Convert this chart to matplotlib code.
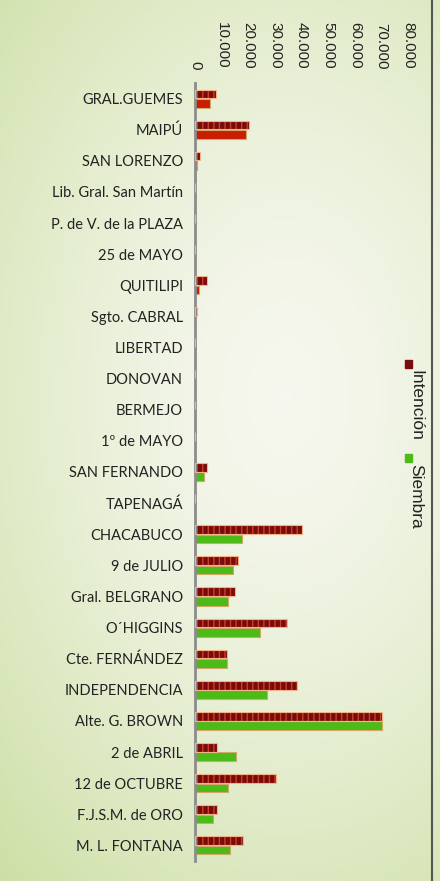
import numpy as np
import matplotlib
matplotlib.use("Agg")
import matplotlib.pyplot as plt
from matplotlib.patches import Rectangle
from matplotlib.lines import Line2D

# datos (hectáreas por departamento)
departamentos = ["GRAL.GUEMES", "MAIPÚ", "SAN LORENZO", "Lib. Gral. San Martín",
                 "P. de V. de la PLAZA", "25 de MAYO", "QUITILIPI", "Sgto. CABRAL",
                 "LIBERTAD", "DONOVAN", "BERMEJO", "1º de MAYO", "SAN FERNANDO",
                 "TAPENAGÁ", "CHACABUCO", "9 de JULIO", "Gral. BELGRANO", "O´HIGGINS",
                 "Cte. FERNÁNDEZ", "INDEPENDENCIA", "Alte. G. BROWN", "2 de ABRIL",
                 "12 de OCTUBRE", "F.J.S.M. de ORO", "M. L. FONTANA"]
intencion = [7700, 20100, 1700, 0, 0, 0, 4400, 600, 0, 0, 0, 0, 4200, 0,
             40000, 16000, 14800, 34400, 12000, 38200, 70100, 8100, 30300, 8100, 17900]
siembra = [5500, 19000, 500, 0, 0, 0, 1300, 0, 0, 0, 0, 0, 3200, 0,
           17500, 14100, 12200, 24200, 12000, 26900, 70100, 15200, 12200, 6600, 13000]
ticks_x = [0, 10000, 20000, 30000, 40000, 50000, 60000, 70000, 80000]
tick_labels = ["0", "10.000", "20.000", "30.000", "40.000", "50.000", "60.000", "70.000", "80.000"]

fig = plt.figure(figsize=(4.4, 8.81), dpi=100)

# fondo degradado
bg = fig.add_axes([0, 0, 1, 1], zorder=-10)
yy, xx = np.mgrid[0:1:200j, 0:1:100j]
d = np.sqrt(((xx - 0.65) / 1.0) ** 2 + ((yy - 0.45) / 0.75) ** 2)
t = np.clip(d, 0, 1) ** 1.5
claro = np.array([0.965, 0.97, 0.935])
verde = np.array([0.80, 0.875, 0.64])
img = claro[None, None, :] + (verde - claro)[None, None, :] * t[..., None]
bg.imshow(img, aspect="auto", extent=[0, 1, 1, 0])
bg.axis("off")

ax = fig.add_axes([0.4443, 0.0227, 0.4830, 0.8831])
ax.patch.set_alpha(0)
y = np.arange(len(departamentos))
h = 0.28

# Intención: rojo oscuro con rayas
ax.barh(y - 0.15, intencion, height=h, color="#7a0b0b", edgecolor="#c8402a",
        hatch="|||", linewidth=0, zorder=2)
ax.barh(y - 0.15, intencion, height=h, fill=False, edgecolor="#f0b48a",
        linewidth=0.8, zorder=3)
# Siembra
col_s = ["#c81e00" if i < 12 else "#4cbb17" for i in range(len(departamentos))]
ax.barh(y + 0.15, siembra, height=h, color=col_s, edgecolor="#d0a868",
        linewidth=0.8, zorder=2)

ax.set_xlim(0, 80000)
ax.set_ylim(len(departamentos) - 0.5, -0.5)
ax.set_yticks(y)
ax.set_yticklabels(departamentos, fontsize=10.5, family="Lato", color="#222222")
ax.xaxis.tick_top()
ax.set_xticks(ticks_x)
ax.set_xticklabels(tick_labels, rotation=-90, fontsize=11, family="Liberation Sans",
                   color="#222222", va="bottom", ha="center")
ax.tick_params(axis="both", length=0)
ax.tick_params(axis="x", pad=10)
ax.tick_params(axis="y", pad=9)
for s in ["top", "right", "bottom"]:
    ax.spines[s].set_visible(False)
ax.spines["left"].set_color("#8c8c8c")
ax.spines["left"].set_linewidth(2)

# leyenda girada
fig.patches.append(Rectangle((405 / 440, 1 - 368 / 881), 7 / 440, 8 / 881,
                             transform=fig.transFigure, color="#7a0b0b"))
fig.text(416 / 440, 1 - 370 / 881, "Intención", rotation=-90, fontsize=12.5,
         family="Liberation Sans", color="#222222", ha="center", va="top")
fig.patches.append(Rectangle((405 / 440, 1 - 462 / 881), 7 / 440, 8 / 881,
                             transform=fig.transFigure, color="#4cbb17"))
fig.text(416 / 440, 1 - 464 / 881, "Siembra", rotation=-90, fontsize=12.5,
         family="Liberation Sans", color="#222222", ha="center", va="top")

# borde derecho
fig.add_artist(Line2D([432 / 440, 432 / 440], [0, 1], transform=fig.transFigure,
                      color="#555555", linewidth=1.5))

fig.savefig("out.png", dpi=100)
